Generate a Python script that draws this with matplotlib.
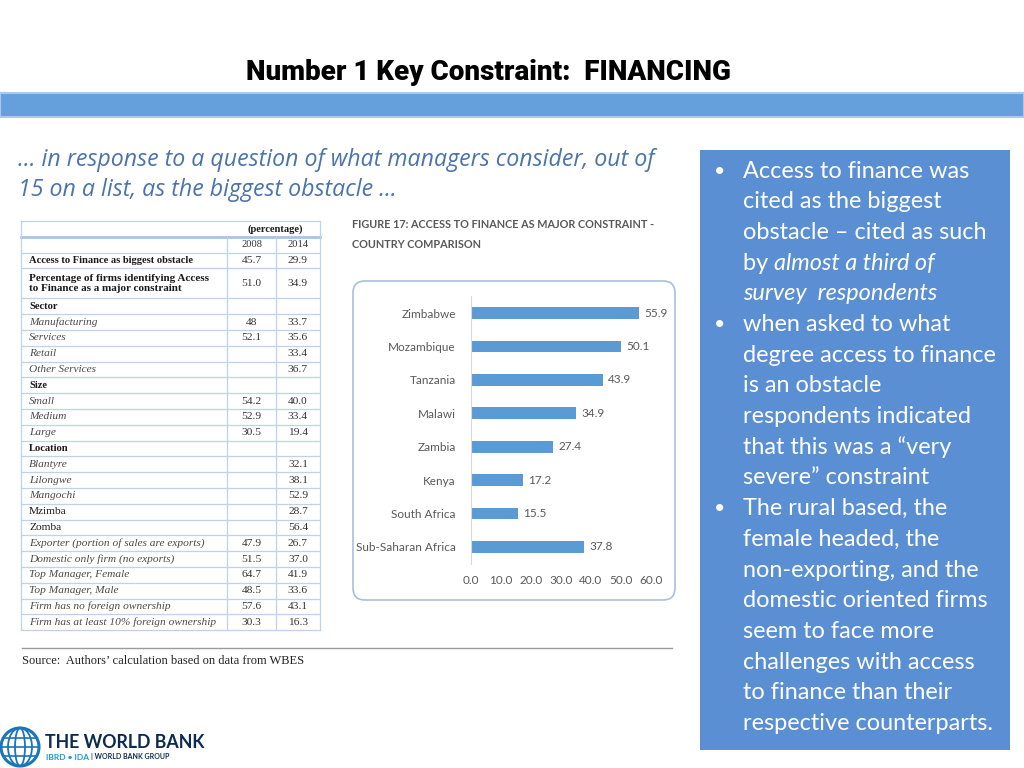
import matplotlib
matplotlib.use("Agg")
import matplotlib.pyplot as plt
from matplotlib import font_manager as fm
from matplotlib.patches import Rectangle, FancyBboxPatch, Circle, Ellipse

# ---------------- data ----------------
countries = ["Zimbabwe", "Mozambique", "Tanzania", "Malawi", "Zambia",
             "Kenya", "South Africa", "Sub-Saharan Africa"]
country_values = [55.9, 50.1, 43.9, 34.9, 27.4, 17.2, 15.5, 37.8]
x_ticks = [0, 10, 20, 30, 40, 50, 60]

row_labels = ["Access to Finance as biggest obstacle",
              "Percentage of firms identifying Access\nto Finance as a major constraint",
              "Sector", "Manufacturing", "Services", "Retail", "Other Services",
              "Size", "Small", "Medium", "Large",
              "Location", "Blantyre", "Lilongwe", "Mangochi", "Mzimba", "Zomba",
              "Exporter (portion of sales are exports)",
              "Domestic only firm (no exports)",
              "Top Manager, Female", "Top Manager, Male",
              "Firm has no foreign ownership",
              "Firm has at least 10% foreign ownership"]
row_styles = ["b", "b", "b", "i", "i", "i", "i", "b", "i", "i", "i",
              "b", "i", "i", "i", "r", "r", "i", "i", "i", "i", "i", "i"]
vals_2008 = ["45.7", "51.0", "", "48", "52.1", "", "", "", "54.2", "52.9", "30.5",
             "", "", "", "", "", "", "47.9", "51.5", "64.7", "48.5", "57.6", "30.3"]
vals_2014 = ["29.9", "34.9", "", "33.7", "35.6", "33.4", "36.7", "", "40.0", "33.4", "19.4",
             "", "32.1", "38.1", "52.9", "28.7", "56.4", "26.7", "37.0", "41.9", "33.6", "43.1", "16.3"]
year_labels = ["2008", "2014"]

bullets = [
    [("Access to finance was", "normal")],
    [("cited as the biggest", "normal")],
    [("obstacle \u2013 cited as such", "normal")],
    [("by ", "normal"), ("almost a third of", "italic")],
    [("survey  respondents", "italic")],
    [("when asked to what", "normal")],
    [("degree access to finance", "normal")],
    [("is an obstacle", "normal")],
    [("respondents indicated", "normal")],
    [("that this was a \u201cvery", "normal")],
    [("severe\u201d constraint", "normal")],
    [("The rural based, the", "normal")],
    [("female headed, the", "normal")],
    [("non-exporting, and the", "normal")],
    [("domestic oriented firms", "normal")],
    [("seem to face more", "normal")],
    [("challenges with access", "normal")],
    [("to finance than their", "normal")],
    [("respective counterparts.", "normal")],
]
bullet_starts = [0, 5, 11]

# ---------------- fonts ----------------
names = {f.name for f in fm.fontManager.ttflist}
def pick(*cands):
    for c in cands:
        if c in names:
            return c
    return "DejaVu Sans"
SANS = pick("Lato", "Open Sans", "Noto Sans")
INTRO = pick("Open Sans", "Lato", "Noto Sans")
SERIF = pick("Liberation Serif", "DejaVu Serif")
NARROW = pick("Liberation Sans Narrow", "Roboto", "DejaVu Sans")

W, H = 1024, 768
fig = plt.figure(figsize=(W / 100, H / 100), dpi=100)
bg = fig.add_axes([0, 0, 1, 1])
bg.set_xlim(0, W)
bg.set_ylim(H, 0)
bg.axis("off")

# ---------------- title + header bar ----------------
bg.text(488, 73, "Number 1 Key Constraint:  FINANCING", ha="center", va="center",
        fontsize=20, fontweight="black", family=NARROW, fontstretch="condensed",
        color="black")
bg.add_patch(Rectangle((0, 93), W, 24, facecolor="#66a0dc", edgecolor="#a9c8ec", lw=1.5))

# ---------------- intro text ----------------
intro_col = "#4a74ab"
bg.text(18, 160, "\u2026 in response to a question of what managers consider, out of",
        fontsize=16.7, style="italic", family=INTRO, color=intro_col, va="center")
bg.text(18, 190, "15 on a list, as the biggest obstacle \u2026",
        fontsize=16.7, style="italic", family=INTRO, color=intro_col, va="center")

# ---------------- right blue box ----------------
bg.add_patch(Rectangle((700, 150), 310, 600, facecolor="#5a8fd3", edgecolor="none"))
y0, dy = 171, 30.7
fs_b = 16.9
for i, parts in enumerate(bullets):
    y = y0 + i * dy
    if i in bullet_starts:
        bg.text(714, y, "\u2022", fontsize=14, family=SANS, color="white", va="center")
    x = 743
    t = None
    for j, (s, st) in enumerate(parts):
        if j == 0:
            t = bg.text(x, y, s, fontsize=fs_b, family=SANS, style=st, color="white", va="center")
        else:
            t = bg.annotate(s, xy=(1, 0.5), xycoords=t, va="center", ha="left",
                            fontsize=fs_b, family=SANS, style=st, color="white")

# ---------------- table ----------------
grid_c = "#bfd2ec"
xl, xa, xb, xr = 21, 227, 276, 320
top = 221
heights = [15.8, 15.8] + [15.8, 30.0] + [15.8] * 21
ys = [top]
for h in heights:
    ys.append(ys[-1] + h)
txt_c = "#1a1a1a"
ital_c = "#4a4a4a"
fs_t = 7.6
fs_i = 8.2
# header row "(percentage)"
bg.text((xa + xr) / 2 + 2, (ys[0] + ys[1]) / 2, "(percentage)", ha="center", va="center",
        fontsize=fs_t, family=SERIF, fontweight="bold", color=txt_c)
bg.text((xa + xb) / 2, (ys[1] + ys[2]) / 2, year_labels[0], ha="center", va="center",
        fontsize=fs_t, family=SERIF, color="#333333")
bg.text((xb + xr) / 2, (ys[1] + ys[2]) / 2, year_labels[1], ha="center", va="center",
        fontsize=fs_t, family=SERIF, color="#333333")
for k, lab in enumerate(row_labels):
    yc = (ys[k + 2] + ys[k + 3]) / 2
    st = row_styles[k]
    kw = dict(family=SERIF, va="center")
    if st == "b":
        kw.update(fontweight="bold", color=txt_c, fontsize=fs_t + (0.4 if k == 1 else 0))
    elif st == "i":
        kw.update(style="italic", color=ital_c, fontsize=fs_i)
    else:
        kw.update(color=txt_c, fontsize=fs_i)
    bg.text(29, yc, lab, ha="left", linespacing=1.15, **kw)
    bg.text((xa + xb) / 2, yc, vals_2008[k], ha="center", fontsize=fs_i, family=SERIF,
            va="center", color="#333333")
    bg.text((xb + xr) / 2, yc, vals_2014[k], ha="center", fontsize=fs_i, family=SERIF,
            va="center", color="#333333")
# grid lines
for i, y in enumerate(ys):
    lw = 2.0 if i == 1 else 0.9
    col = "#a9c3e6" if i == 1 else grid_c
    bg.plot([xl, xr], [y, y], color=col, lw=lw)
bg.plot([xl, xl], [ys[0], ys[-1]], color=grid_c, lw=0.9)
bg.plot([xr, xr], [ys[0], ys[-1]], color=grid_c, lw=0.9)
bg.plot([xa, xa], [ys[1], ys[-1]], color=grid_c, lw=0.9)
bg.plot([xb, xb], [ys[1], ys[-1]], color=grid_c, lw=0.9)

# source
bg.plot([22, 672], [648, 648], color="#9a9a9a", lw=1.0)
bg.text(22, 661, "Source:  Authors\u2019 calculation based on data from WBES", fontsize=9,
        family=SERIF, va="center", ha="left", color="#222222")

# ---------------- figure caption ----------------
cap_c = "#595959"
bg.text(352, 225, "FIGURE 17: ACCESS TO FINANCE AS MAJOR CONSTRAINT -", fontsize=7.8,
        family=SANS, fontweight="bold", color=cap_c, va="center")
bg.text(352, 244, "COUNTRY COMPARISON", fontsize=7.8, family=SANS, fontweight="bold",
        color=cap_c, va="center")

# chart frame
bg.add_patch(FancyBboxPatch((353, 281), 322, 319, boxstyle="round,pad=0,rounding_size=12",
                            facecolor="white", edgecolor="#a9c0dc", lw=1.2))

# ---------------- bar chart ----------------
def fx(px):
    return px / W
def fy(py):
    return 1 - py / H
ax_left, ax_right = 471, 651
ax_top, ax_bot = 296.3, 563.7
ax = fig.add_axes([fx(ax_left), fy(ax_bot), (ax_right - ax_left) / W, (ax_bot - ax_top) / H])
ax.patch.set_alpha(0)
pos = list(range(len(countries)))
ax.barh(pos, country_values, height=0.35, color="#5b9bd5")
ax.set_ylim(len(countries) - 0.5, -0.5)
ax.set_xlim(0, 60)
ax.set_yticks(pos)
ax.set_yticklabels(countries, fontsize=8.5, family=SANS, color=cap_c)
ax.set_xticks(x_ticks)
ax.set_xticklabels(["%.1f" % v for v in x_ticks], fontsize=8.5, family=SANS, color=cap_c)
ax.tick_params(axis="both", length=0)
ax.tick_params(axis="y", pad=11)
ax.tick_params(axis="x", pad=8)
for s in ["top", "right", "bottom"]:
    ax.spines[s].set_visible(False)
ax.spines["left"].set_color("#d9d9d9")
for p, v in zip(pos, country_values):
    ax.text(v + 1.8, p, "%.1f" % v, va="center", ha="left", fontsize=8.5, family=SANS,
            color=cap_c)

# ---------------- logo ----------------
gc = "#1b75bb"
bg.add_patch(Circle((20, 747), 19, facecolor="none", edgecolor=gc, lw=2.2))
for w in [10, 24]:
    bg.add_patch(Ellipse((20, 747), w, 38, facecolor="none", edgecolor=gc, lw=1.3))
for dyv, wv in [(-9, 33), (0, 38), (9, 33)]:
    bg.plot([20 - wv / 2, 20 + wv / 2], [747 + dyv, 747 + dyv], color=gc, lw=1.2)
bg.text(45, 742, "THE WORLD BANK", fontsize=12.8, fontweight="bold", family=SANS,
        color="#0b2b55", va="center", ha="left")
t1 = bg.text(46, 757, "IBRD \u2022 IDA ", fontsize=6, fontweight="bold", family=SANS,
             color="#1a9ad6", va="center", ha="left")
bg.annotate("| WORLD BANK GROUP", xy=(1, 0.5), xycoords=t1, va="center", ha="left",
            fontsize=5, fontweight="bold", family=SANS, color="#0b2b55")

fig.savefig("out.png", dpi=100)
